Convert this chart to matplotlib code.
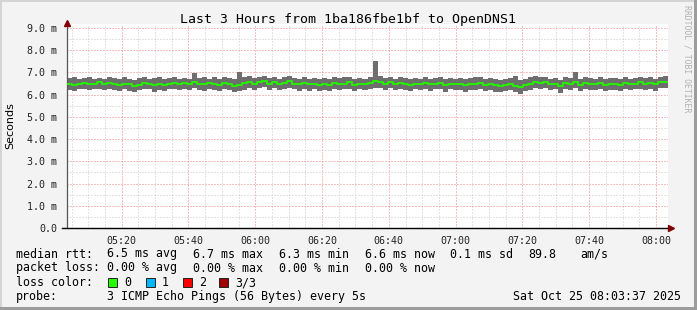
import matplotlib
matplotlib.use("Agg")
import matplotlib.pyplot as plt
from matplotlib.patches import Rectangle
import numpy as np

# --- data (milliseconds), one value per 90 s step, start 05:03:37 ---
start_min = 3 + 37 / 60.0   # minutes after 05:00
step_min = 1.5

median = [6.50, 6.45, 6.48, 6.52, 6.46, 6.50, 6.55, 6.50, 6.52, 6.48,
          6.44, 6.50, 6.47, 6.40, 6.45, 6.52, 6.50, 6.42, 6.48, 6.45,
          6.50, 6.53, 6.48, 6.52, 6.50, 6.55, 6.50, 6.47, 6.52, 6.50,
          6.45, 6.52, 6.48, 6.40, 6.44, 6.52, 6.56, 6.50, 6.58, 6.62,
          6.50, 6.55, 6.48, 6.52, 6.60, 6.50, 6.47, 6.52, 6.46, 6.50,
          6.44, 6.48, 6.45, 6.52, 6.48, 6.50, 6.55, 6.45, 6.50, 6.48,
          6.52, 6.60, 6.55, 6.50, 6.56, 6.48, 6.52, 6.50, 6.45, 6.50,
          6.48, 6.52, 6.47, 6.50, 6.52, 6.44, 6.50, 6.48, 6.46, 6.42,
          6.48, 6.50, 6.52, 6.45, 6.48, 6.44, 6.40, 6.42, 6.48, 6.40,
          6.35, 6.42, 6.50, 6.58, 6.52, 6.55, 6.48, 6.50, 6.38, 6.52,
          6.48, 6.55, 6.45, 6.52, 6.50, 6.47, 6.52, 6.45, 6.48, 6.50,
          6.45, 6.52, 6.48, 6.50, 6.55, 6.48, 6.52, 6.47, 6.55, 6.58]

smoke_hi = [6.74, 6.78, 6.70, 6.76, 6.80, 6.72, 6.77, 6.70, 6.78, 6.73,
            6.70, 6.79, 6.72, 6.68, 6.76, 6.80, 6.70, 6.73, 6.78, 6.71,
            6.76, 6.80, 6.72, 6.77, 6.70, 6.98, 6.74, 6.79, 6.72, 6.78,
            6.70, 6.80, 6.73, 6.72, 7.00, 6.78, 6.82, 6.74, 6.80, 6.84,
            6.75, 6.81, 6.72, 6.78, 6.82, 6.73, 6.70, 6.79, 6.72, 6.77,
            6.70, 6.76, 6.72, 6.79, 6.73, 6.78, 6.81, 6.71, 6.77, 6.72,
            6.79, 7.50, 6.82, 6.74, 6.80, 6.72, 6.78, 6.73, 6.70, 6.77,
            6.72, 6.79, 6.71, 6.76, 6.80, 6.70, 6.77, 6.72, 6.76, 6.69,
            6.75, 6.78, 6.80, 6.70, 6.76, 6.72, 6.68, 6.71, 6.77, 6.85,
            6.66, 6.70, 6.78, 6.82, 6.79, 6.81, 6.72, 6.77, 6.68, 6.78,
            6.73, 7.00, 6.70, 6.78, 6.76, 6.71, 6.79, 6.70, 6.75, 6.77,
            6.70, 6.79, 6.72, 6.77, 6.80, 6.73, 6.78, 6.72, 6.80, 6.82]

smoke_lo = [6.22, 6.17, 6.24, 6.25, 6.19, 6.26, 6.27, 6.21, 6.27, 6.19,
            6.15, 6.25, 6.18, 6.12, 6.20, 6.24, 6.24, 6.14, 6.23, 6.17,
            6.26, 6.25, 6.19, 6.27, 6.21, 6.30, 6.22, 6.18, 6.27, 6.21,
            6.16, 6.27, 6.19, 6.11, 6.18, 6.23, 6.30, 6.22, 6.29, 6.35,
            6.21, 6.30, 6.19, 6.27, 6.30, 6.24, 6.17, 6.26, 6.17, 6.25,
            6.15, 6.22, 6.16, 6.27, 6.19, 6.25, 6.27, 6.16, 6.25, 6.19,
            6.26, 6.29, 6.30, 6.21, 6.30, 6.19, 6.27, 6.22, 6.16, 6.24,
            6.19, 6.27, 6.18, 6.25, 6.24, 6.14, 6.24, 6.19, 6.20, 6.12,
            6.22, 6.22, 6.27, 6.15, 6.22, 6.14, 6.10, 6.15, 6.19, 6.11,
            6.05, 6.15, 6.22, 6.32, 6.24, 6.30, 6.19, 6.25, 6.09, 6.27,
            6.19, 6.30, 6.15, 6.27, 6.21, 6.20, 6.24, 6.15, 6.22, 6.22,
            6.15, 6.27, 6.19, 6.25, 6.27, 6.22, 6.24, 6.17, 6.30, 6.30]

xtick_min = [20, 40, 60, 80, 100, 120, 140, 160, 180]
xtick_labels = ["05:20", "05:40", "06:00", "06:20", "06:40", "07:00", "07:20", "07:40", "08:00"]
ytick_vals = [0, 1, 2, 3, 4, 5, 6, 7, 8, 9]
ytick_labels = ["0.0"] + ["%.1f m" % v for v in ytick_vals[1:]]

title = "Last 3 Hours from 1ba186fbe1bf to OpenDNS1"
stats_rtt = ["6.5 ms avg", "6.7 ms max", "6.3 ms min", "6.6 ms now", "0.1 ms sd", "89.8", "am/s"]
stats_loss = ["0.00 % avg", "0.00 % max", "0.00 % min", "0.00 % now"]
loss_names = ["0", "1", "2", "3/3"]
loss_colors = ["#26ff00", "#00b8ff", "#ff0000", "#a00000"]
probe_text = "3 ICMP Echo Pings (56 Bytes) every 5s"
stamp_text = "Sat Oct 25 08:03:37 2025"

W, H = 697, 310
mono = "DejaVu Sans Mono"

fig = plt.figure(figsize=(W / 100, H / 100), dpi=100)
fig.patch.set_facecolor("#f3f3f3")

# frame around the image
fig.add_artist(Rectangle((0, 1 - 2 / H), 1, 2 / H, transform=fig.transFigure, color="#d4d4d4", lw=0))
fig.add_artist(Rectangle((0, 0), 2 / W, 1, transform=fig.transFigure, color="#d4d4d4", lw=0))
fig.add_artist(Rectangle((1 - 3 / W, 0), 3 / W, 1, transform=fig.transFigure, color="#9c9c9c", lw=0))
fig.add_artist(Rectangle((0, 0), 1, 3 / H, transform=fig.transFigure, color="#9c9c9c", lw=0))

x0, x1, ytop, ybot = 67, 668, 24, 228
ax = fig.add_axes([x0 / W, 1 - ybot / H, (x1 - x0) / W, (ybot - ytop) / H])
ax.set_facecolor("white")

n = len(median)
t = start_min + step_min * np.arange(n + 1)
end_min = start_min + 180
hi = np.append(smoke_hi, smoke_hi[-1])
lo = np.append(smoke_lo, smoke_lo[-1])
med = np.append(median, median[-1])

# dotted grid, rrdtool style
dots = (0, (1, 2))
for m in range(5, 185, 5):
    major = m % 20 == 0
    ax.axvline(m, color="#f08080" if major else "#c8c8c8", lw=0.72,
               ls=dots, zorder=1)
for v in np.arange(0.5, 9.01, 0.5):
    major = abs(v - round(v)) < 1e-6
    ax.axhline(v, color="#f08080" if major else "#c8c8c8", lw=0.72,
               ls=dots, zorder=1)

ax.fill_between(t, lo, hi, step="post", color="#6e6e6e", lw=0, zorder=2)
ax.step(t, med, where="post", color="#26f000", lw=1.4, zorder=3)

ax.set_xlim(start_min, end_min)
ax.set_ylim(0, (ybot - ytop) / 200 * 9)

ax.set_xticks(xtick_min)
ax.set_xticklabels(xtick_labels, fontfamily=mono, fontsize=7.2, color="#222222")
ax.set_yticks(ytick_vals)
ax.set_yticklabels(ytick_labels, fontfamily=mono, fontsize=7.2, color="#222222")
ax.tick_params(length=0, pad=6)
ax.tick_params(axis="y", pad=7)

for s in ["top", "right"]:
    ax.spines[s].set_visible(False)
ax.spines["left"].set_color("#555555")
ax.spines["left"].set_linewidth(0.9)
ax.spines["bottom"].set_color("black")
ax.spines["bottom"].set_linewidth(1.0)
ax.spines["bottom"].set_bounds(start_min - 1.5, end_min + 0.6)

# axis arrows
ax.plot([start_min], [ax.get_ylim()[1] + 0.05], marker="^", ms=5, color="#800000",
        clip_on=False, zorder=5)
ax.plot([end_min + 0.9], [0], marker=">", ms=5, color="#800000", clip_on=False, zorder=5)

fig.text(0.5, 1 - 19 / H, title, fontfamily=mono, fontsize=9.5, ha="center", va="center")
fig.text(10 / W, 1 - 126 / H, "Seconds", rotation=90, fontsize=8, ha="center", va="center")
fig.text(687 / W, 1 - 59 / H, "RRDTOOL / TOBI OETIKER", rotation=270, fontfamily=mono,
         fontsize=5.9, color="#b0b0b0", ha="center", va="center")

fs = 8.4
rows_y = [254, 268, 282.5, 296.5]


def put(x, y, s):
    fig.text(x / W, 1 - y / H, s, fontfamily=mono, fontsize=fs, ha="left", va="center")


put(16, rows_y[0], "median rtt:")
for x, s in zip([107, 193, 279, 365, 450, 528, 580], stats_rtt):
    put(x, rows_y[0], s)

put(16, rows_y[1], "packet loss:")
for x, s in zip([107, 193, 279, 365], stats_loss):
    put(x, rows_y[1], s)

put(16, rows_y[2], "loss color:")
for x, name, c in zip([108, 146, 183, 219], loss_names, loss_colors):
    fig.add_artist(Rectangle((x / W, 1 - (rows_y[2] + 4.5) / H), 9 / W, 9 / H,
                             transform=fig.transFigure, facecolor=c,
                             edgecolor="#222222", lw=0.7))
    put(x + 16, rows_y[2], name)

put(16, rows_y[3], "probe:")
put(107, rows_y[3], probe_text)
put(513, rows_y[3], stamp_text)

fig.savefig("out.png", dpi=100, facecolor=fig.get_facecolor())
